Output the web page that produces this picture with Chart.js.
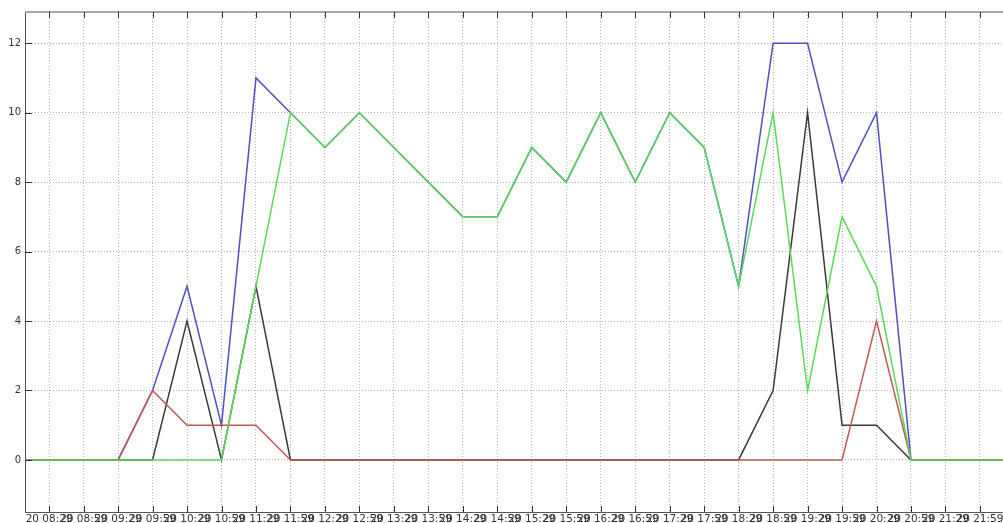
<!DOCTYPE html>
<html>
<head>
<meta charset="utf-8">
<script src="https://cdn.jsdelivr.net/npm/chart.js@4/dist/chart.umd.min.js"></script>
<style>
  html, body { margin: 0; padding: 0; background: #fff; overflow: hidden; }
  #wrap { position: relative; width: 1012px; height: 523px; }
</style>
</head>
<body>
<div id="wrap"><canvas id="counts"></canvas></div>
<script>
// half-hour slots, counted from 20 08:29 (slot 0)
const slots = [-1, 0, 1, 2, 3, 4, 5, 6, 7, 8, 9, 10, 11, 12, 13, 14, 15, 16, 17, 18, 19, 20, 21, 22, 23, 24, 25, 26, 27, 28];

const tickLabels = ['20 08:29', '20 08:59', '20 09:29', '20 09:59', '20 10:29', '20 10:59', '20 11:29',
  '20 11:59', '20 12:29', '20 12:59', '20 13:29', '20 13:59', '20 14:29', '20 14:59', '20 15:29',
  '20 15:59', '20 16:29', '20 16:59', '20 17:29', '20 17:59', '20 18:29', '20 18:59', '20 19:29',
  '20 19:59', '20 20:29', '20 20:59', '20 21:29', '20 21:59'];

const totalCounts = [0, 0, 0, 0, 2, 5, 1, 11, 10, 9, 10, 9, 8, 7, 7, 9, 8, 10, 8, 10, 9, 5, 12, 12, 8, 10, 0, 0, 0, 0];
const greenCounts = [0, 0, 0, 0, 0, 0, 0, 5, 10, 9, 10, 9, 8, 7, 7, 9, 8, 10, 8, 10, 9, 5, 10, 2, 7, 5, 0, 0, 0, 0];
const blackCounts = [0, 0, 0, 0, 0, 4, 0, 5, 0, 0, 0, 0, 0, 0, 0, 0, 0, 0, 0, 0, 0, 0, 2, 10, 1, 1, 0, 0, 0, 0];
const redCounts   = [0, 0, 0, 0, 2, 1, 1, 1, 0, 0, 0, 0, 0, 0, 0, 0, 0, 0, 0, 0, 0, 0, 0, 0, 0, 4, 0, 0, 0, 0];

const yTickValues = [0, 2, 4, 6, 8, 10, 12];

function points(values) {
  return slots.map((s, i) => ({ x: s, y: values[i] }));
}

function series(values, color) {
  return {
    data: points(values),
    borderColor: color,
    borderWidth: 1.5,
    pointRadius: 0,
    tension: 0,
    fill: false
  };
}

// top frame line plus short inward tick marks on every side
const frameTicks = {
  id: 'frameTicks',
  afterDraw(chart) {
    const { ctx, chartArea: a, scales: { x, y } } = chart;
    ctx.save();
    ctx.strokeStyle = '#8a8a8a';
    ctx.lineWidth = 1.5;
    ctx.beginPath();
    ctx.moveTo(a.left, a.top);
    ctx.lineTo(a.right, a.top);
    ctx.stroke();

    ctx.strokeStyle = '#333';
    ctx.lineWidth = 1;
    ctx.beginPath();
    x.ticks.forEach(t => {
      const px = Math.round(x.getPixelForValue(t.value)) + 0.5;
      ctx.moveTo(px, a.bottom);
      ctx.lineTo(px, a.bottom - 6);
      ctx.moveTo(px, a.top);
      ctx.lineTo(px, a.top + 6);
    });
    y.ticks.forEach(t => {
      const py = Math.round(y.getPixelForValue(t.value)) + 0.5;
      ctx.moveTo(a.left, py);
      ctx.lineTo(a.left + 7, py);
    });
    ctx.stroke();
    ctx.restore();
  }
};

new Chart(document.getElementById('counts'), {
  type: 'line',
  data: {
    datasets: [
      series(greenCounts, '#5ad85a'),
      series(redCounts, '#c05858'),
      series(blackCounts, '#3a3a3a'),
      series(totalCounts, '#5050c0')
    ]
  },
  options: {
    responsive: true,
    maintainAspectRatio: false,
    animation: false,
    layout: { padding: { top: 12, left: 0, right: 0, bottom: 0 } },
    plugins: { legend: { display: false }, tooltip: { enabled: false } },
    scales: {
      x: {
        type: 'linear',
        min: -0.70,
        max: 27.93,
        afterBuildTicks: s => { s.ticks = tickLabels.map((_, i) => ({ value: i })); },
        afterFit: s => { s.height = 11; },
        grid: { color: '#b4b4b4', lineWidth: 1, drawTicks: false },
        border: { display: true, color: '#555', width: 1, dash: [1, 2] },
        ticks: {
          autoSkip: false,
          maxRotation: 0,
          minRotation: 0,
          padding: 1,
          color: '#333',
          font: { family: 'DejaVu Sans', size: 10.5 },
          callback: v => tickLabels[v]
        }
      },
      y: {
        min: -1.5,
        max: 12.9,
        afterBuildTicks: s => { s.ticks = yTickValues.map(v => ({ value: v })); },
        afterFit: s => { s.width = 25; },
        grid: { color: '#b4b4b4', lineWidth: 1, drawTicks: false },
        border: { display: true, color: '#555', width: 1, dash: [1, 2] },
        ticks: {
          padding: 4,
          color: '#333',
          font: { family: 'DejaVu Sans', size: 10 }
        }
      }
    }
  },
  plugins: [frameTicks]
});
</script>
</body>
</html>
